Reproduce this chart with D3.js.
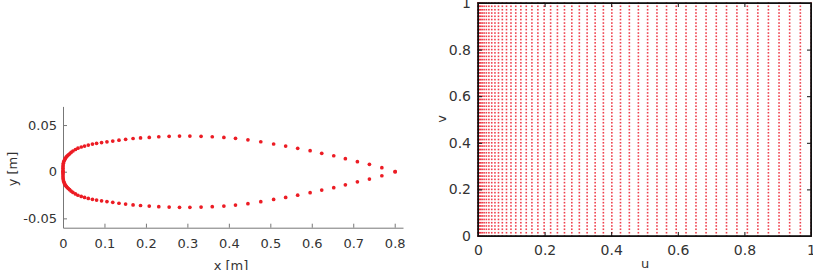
<!DOCTYPE html>
<html>
<head>
<meta charset="utf-8">
<script src="https://cdn.jsdelivr.net/npm/d3@7"></script>
<style>
    body { margin: 0; background: #fff; }
    svg { display: block; font-family: "DejaVu Sans", sans-serif; }
</style>
</head>
<body>
<div id="chart"></div>
<script>

// ---- profile points (left panel), upper and lower surface share x ----
const surfaceX = [0, 0, 0, 0, 0.0003, 0.0008, 0.0017, 0.003, 0.0045, 0.006, 0.008, 0.0105, 0.013, 0.016,
    0.0195, 0.024, 0.030, 0.036, 0.044, 0.052, 0.061, 0.071, 0.081, 0.093, 0.106, 0.120, 0.135, 0.151,
    0.169, 0.187, 0.208, 0.231, 0.256, 0.281, 0.306, 0.333, 0.360, 0.388, 0.416, 0.446, 0.477, 0.508,
    0.537, 0.566, 0.596, 0.624, 0.653, 0.681, 0.710, 0.739, 0.769, 0.801];
const upperY = [0, 0.0018, 0.0036, 0.0054, 0.0072, 0.0090, 0.0106, 0.0120, 0.0134, 0.0146, 0.0158, 0.0170,
    0.0181, 0.0192, 0.0207, 0.0222, 0.0238, 0.0252, 0.0265, 0.0275, 0.0286, 0.0296, 0.0304, 0.0312, 0.0320,
    0.0328, 0.0338, 0.0347, 0.0356, 0.0362, 0.0368, 0.0375, 0.0379, 0.0382, 0.0382, 0.0379, 0.0375, 0.0368,
    0.0358, 0.0342, 0.0321, 0.0297, 0.0275, 0.0251, 0.0225, 0.0197, 0.0171, 0.0140, 0.0108, 0.0079, 0.0043, 0];
const lowerY = [0, -0.0018, -0.0036, -0.0054, -0.0072, -0.0090, -0.0106, -0.0120, -0.0134, -0.0146, -0.0158, -0.0170,
    -0.0181, -0.0192, -0.0207, -0.0222, -0.0238, -0.0252, -0.0265, -0.0275, -0.0286, -0.0296, -0.0304, -0.0312, -0.0320,
    -0.0328, -0.0338, -0.0347, -0.0356, -0.0362, -0.0368, -0.0375, -0.0379, -0.0382, -0.0382, -0.0379, -0.0375, -0.0368,
    -0.0358, -0.0342, -0.0321, -0.0297, -0.0275, -0.0251, -0.0225, -0.0197, -0.0171, -0.0140, -0.0108, -0.0079, -0.0043, 0];
const profileXTicks = [0, 0.1, 0.2, 0.3, 0.4, 0.5, 0.6, 0.7, 0.8];
const profileYTicks = [-0.05, 0, 0.05];

// ---- parameter grid (right panel) ----
const gridU = [0, .0005, .0021, .0046, .0082, .0128, .0184, .0251, .0327, .0413, .0509, .0615, .0731, .0856,
    .0990, .1134, .1287, .1449, .1619, .1798, .1986, .2181, .2385, .2597, .2817, .3043, .3277, .3518, .3765,
    .4019, .4279, .4545, .4816, .5093, .5374, .5661, .5952, .6247, .6546, .6849, .7155, .7463, .7775, .8089,
    .8404, .8721, .9040, .9359, .9680, 1];
const gridV = [0, .014, .029, .043, .057, .071, .086, .1, .114, .129, .143, .157, .171, .186, .2, .214, .229,
    .243, .257, .271, .286, .3, .314, .329, .343, .357, .371, .386, .4, .414, .429, .443, .457, .471, .486, .5,
    .514, .529, .543, .557, .571, .586, .6, .614, .629, .643, .657, .671, .686, .7, .714, .729, .743, .757,
    .771, .786, .8, .814, .829, .843, .857, .871, .886, .9, .914, .929, .943, .957, .971, .986, 1];
const paramTicks = [0, 0.2, 0.4, 0.6, 0.8, 1];


const svg = d3.select("#chart").append("svg")
    .attr("width", 813)
    .attr("height", 270);

function styleAxis(g, size, color) {
    g.attr("font-family", null).attr("font-size", size);
    g.selectAll("line").attr("stroke", color);
    g.selectAll("path").attr("stroke", color);
    g.selectAll("text").attr("fill", "#333");
}

/* left panel: profile */
let px = d3.scaleLinear().domain([0, 0.82]).range([63, 403]);
let py = d3.scaleLinear().domain([-0.06, 0.07]).range([227.7, 106.4]);

svg.append("g")
    .attr("transform", "translate(0,227.7)")
    .call(d3.axisBottom(px).tickValues(profileXTicks).tickFormat(String)
        .tickSizeInner(-4).tickSizeOuter(0).tickPadding(11))
    .call(g => styleAxis(g, 13, "#777"));

svg.append("g")
    .attr("transform", "translate(63,0)")
    .call(d3.axisLeft(py).tickValues(profileYTicks).tickFormat(String)
        .tickSizeInner(-4).tickSizeOuter(0).tickPadding(6))
    .call(g => styleAxis(g, 13, "#777"));

let profile = surfaceX.map((x, i) => [x, upperY[i]])
    .concat(surfaceX.map((x, i) => [x, lowerY[i]]));

svg.append("g").selectAll("circle")
    .data(profile)
    .enter().append("circle")
    .attr("cx", d => px(d[0]))
    .attr("cy", d => py(d[1]))
    .attr("r", 1.85)
    .attr("fill", "#ec1c24");

svg.append("text")
    .attr("x", 231).attr("y", 270)
    .attr("text-anchor", "middle")
    .attr("font-size", 13).attr("fill", "#333")
    .text("x [m]");

svg.append("text")
    .attr("transform", "translate(17,169) rotate(-90)")
    .attr("text-anchor", "middle")
    .attr("font-size", 13).attr("fill", "#333")
    .text("y [m]");

/* right panel: (u, v) grid */
let gx = d3.scaleLinear().domain([0, 1]).range([478, 811]);
let gy = d3.scaleLinear().domain([0, 1]).range([236, 3]);

let gridPts = [];
gridU.forEach(u => gridV.forEach(v => gridPts.push([u, v])));

svg.append("g").selectAll("rect")
    .data(gridPts)
    .enter().append("rect")
    .attr("x", d => gx(d[0]) - 0.8)
    .attr("y", d => gy(d[1]) - 0.8)
    .attr("width", 1.6)
    .attr("height", 1.6)
    .attr("fill", "#ec1c2c")
    .attr("fill-opacity", 0.85);

svg.append("g")
    .attr("transform", "translate(0,236)")
    .call(d3.axisBottom(gx).tickValues(paramTicks).tickFormat(String)
        .tickSizeInner(-4).tickSizeOuter(0).tickPadding(9))
    .call(g => styleAxis(g, 14, "#111"));
svg.append("g")
    .attr("transform", "translate(0,3)")
    .call(d3.axisTop(gx).tickValues(paramTicks).tickFormat("")
        .tickSizeInner(-4).tickSizeOuter(0))
    .call(g => styleAxis(g, 14, "#111"));
svg.append("g")
    .attr("transform", "translate(478,0)")
    .call(d3.axisLeft(gy).tickValues(paramTicks).tickFormat(String)
        .tickSizeInner(-4).tickSizeOuter(0).tickPadding(7))
    .call(g => styleAxis(g, 14, "#111"));
svg.append("g")
    .attr("transform", "translate(811,0)")
    .call(d3.axisRight(gy).tickValues(paramTicks).tickFormat("")
        .tickSizeInner(-4).tickSizeOuter(0))
    .call(g => styleAxis(g, 14, "#111"));

svg.append("rect")
    .attr("x", 478).attr("y", 3)
    .attr("width", 333).attr("height", 233)
    .attr("fill", "none")
    .attr("stroke", "#111")
    .attr("stroke-width", 1.6);

svg.append("text")
    .attr("x", 645).attr("y", 268)
    .attr("text-anchor", "middle")
    .attr("font-size", 13).attr("fill", "#333")
    .text("u");

svg.append("text")
    .attr("transform", "translate(446,119) rotate(-90)")
    .attr("text-anchor", "middle")
    .attr("font-size", 13).attr("fill", "#333")
    .text("v");

</script>
</body>
</html>
